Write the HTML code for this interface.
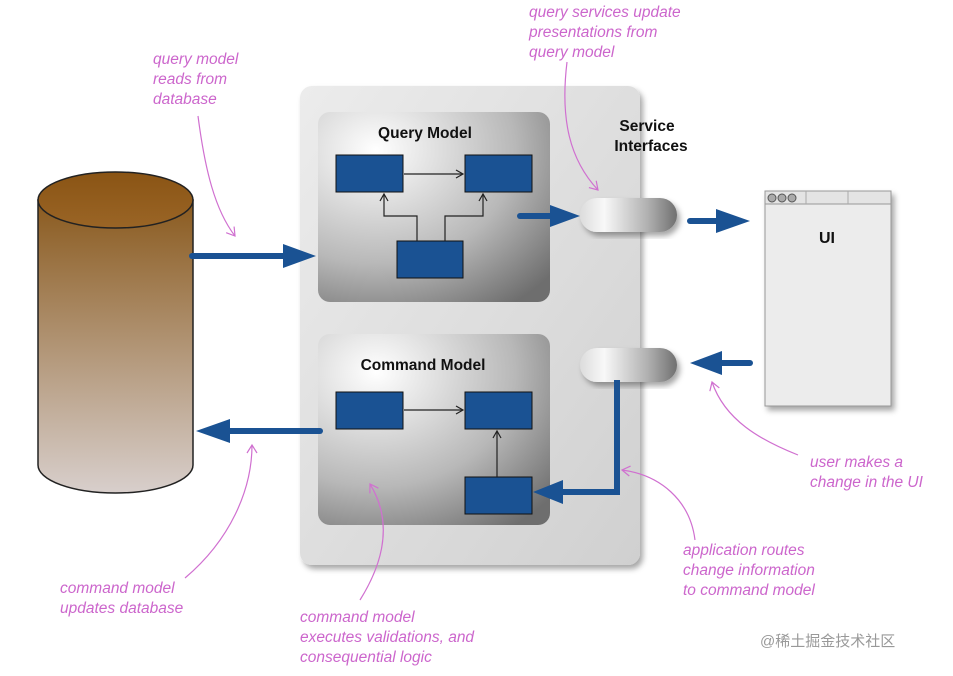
<!DOCTYPE html>
<html><head><meta charset="utf-8"><style>
body{margin:0;background:#fff;}
svg text{font-family:"Liberation Sans",sans-serif;}
.p{fill:#cc66cc;font-style:italic;font-size:15.5px;}
.b{font-weight:bold;font-size:15.5px;fill:#111;}
</style></head><body>
<svg width="953" height="671" viewBox="0 0 953 671" xmlns="http://www.w3.org/2000/svg">
<defs>
<linearGradient id="cyl" x1="0" y1="0" x2="0" y2="1"><stop offset="0" stop-color="#8a5a1e"/><stop offset="1" stop-color="#d8cfcc"/></linearGradient>
<linearGradient id="cylT" x1="0" y1="0" x2="0" y2="1"><stop offset="0" stop-color="#8a5414"/><stop offset="1" stop-color="#9a6526"/></linearGradient>
<linearGradient id="outer" x1="0" y1="0" x2="1" y2="1"><stop offset="0" stop-color="#ececec"/><stop offset="1" stop-color="#d0d0d0"/></linearGradient>
<radialGradient id="inner" cx="0.25" cy="0.2" r="1"><stop offset="0" stop-color="#ffffff"/><stop offset="0.6" stop-color="#b8b8b8"/><stop offset="1" stop-color="#6e6e6e"/></radialGradient>
<radialGradient id="pill" cx="0.25" cy="0.35" r="0.85" gradientTransform="scale(1,1)"><stop offset="0" stop-color="#ffffff"/><stop offset="0.5" stop-color="#cccccc"/><stop offset="1" stop-color="#6a6a6a"/></radialGradient>
<filter id="sh" x="-10%" y="-10%" width="130%" height="130%"><feDropShadow dx="3" dy="4" stdDeviation="3" flood-opacity="0.35"/></filter>
<marker id="sa" markerWidth="10" markerHeight="10" refX="8" refY="5" orient="auto" markerUnits="userSpaceOnUse"><path d="M1,1 L8,5 L1,9" fill="none" stroke="#222" stroke-width="1.2"/></marker>
<marker id="pa" markerWidth="12" markerHeight="12" refX="10" refY="6" orient="auto" markerUnits="userSpaceOnUse"><path d="M2,1 L10,6 L2,11" fill="none" stroke="#d070d0" stroke-width="1.2"/></marker>
<linearGradient id="pillH" x1="0" y1="0" x2="1" y2="0"><stop offset="0" stop-color="#dcdcdc"/><stop offset="0.25" stop-color="#f8f8f8"/><stop offset="0.7" stop-color="#b0b0b0"/><stop offset="1" stop-color="#707070"/></linearGradient>
</defs>
<path d="M38,200 L38,465 A77.5,28 0 0 0 193,465 L193,200 Z" fill="url(#cyl)" stroke="#222" stroke-width="1.5"/>
<ellipse cx="115.5" cy="200" rx="77.5" ry="28" fill="url(#cylT)" stroke="#222" stroke-width="1.5"/>
<rect x="300" y="86" width="340" height="479" rx="12" fill="url(#outer)" filter="url(#sh)"/>
<text class="b" x="647" y="131" text-anchor="middle">Service</text>
<text class="b" x="651" y="151" text-anchor="middle">Interfaces</text>
<rect x="318" y="112" width="232" height="190" rx="12" fill="url(#inner)"/>
<text class="b" x="425" y="138" text-anchor="middle">Query Model</text>
<rect x="336" y="155" width="67" height="37" fill="#1a5293" stroke="#111"/>
<rect x="465" y="155" width="67" height="37" fill="#1a5293" stroke="#111"/>
<rect x="397" y="241" width="66" height="37" fill="#1a5293" stroke="#111"/>
<line x1="404" y1="174" x2="463" y2="174" stroke="#222" stroke-width="1.2" marker-end="url(#sa)"/>
<path d="M417,241 L417,216 L384,216 L384,194" fill="none" stroke="#222" stroke-width="1.2" marker-end="url(#sa)"/>
<path d="M445,241 L445,216 L483,216 L483,194" fill="none" stroke="#222" stroke-width="1.2" marker-end="url(#sa)"/>
<rect x="318" y="334" width="232" height="191" rx="12" fill="url(#inner)"/>
<text class="b" x="423" y="370" text-anchor="middle">Command Model</text>
<rect x="336" y="392" width="67" height="37" fill="#1a5293" stroke="#111"/>
<rect x="465" y="392" width="67" height="37" fill="#1a5293" stroke="#111"/>
<rect x="465" y="477" width="67" height="37" fill="#1a5293" stroke="#111"/>
<line x1="404" y1="410" x2="463" y2="410" stroke="#222" stroke-width="1.2" marker-end="url(#sa)"/>
<line x1="497" y1="477" x2="497" y2="431" stroke="#222" stroke-width="1.2" marker-end="url(#sa)"/>
<rect x="580" y="198" width="97" height="34" rx="17" fill="url(#pillH)" filter="url(#sh)"/>
<rect x="580" y="348" width="97" height="34" rx="17" fill="url(#pillH)" filter="url(#sh)"/>
<g filter="url(#sh)">
<rect x="765" y="191" width="126" height="215" fill="#ececec" stroke="#999"/>
<rect x="765" y="191" width="126" height="13" fill="#e4e4e4" stroke="#999"/>
<line x1="806" y1="191" x2="806" y2="204" stroke="#aaa"/><line x1="848" y1="191" x2="848" y2="204" stroke="#aaa"/>
<circle cx="772" cy="198" r="4" fill="#aaa" stroke="#555"/><circle cx="782" cy="198" r="4" fill="#aaa" stroke="#555"/><circle cx="792" cy="198" r="4" fill="#aaa" stroke="#555"/>
</g>
<text x="827" y="243" text-anchor="middle" style="font-weight:bold;font-size:16px;fill:#111">UI</text>
<g fill="#1a5293" stroke="#1a5293">
<line x1="192" y1="256" x2="285" y2="256" stroke-width="6" stroke-linecap="round"/><path d="M283,244 L316,256 L283,268 Z" stroke="none"/>
<line x1="520" y1="216" x2="552" y2="216" stroke-width="6" stroke-linecap="round"/><path d="M550,205 L580,216 L550,227 Z" stroke="none"/>
<line x1="690" y1="221" x2="720" y2="221" stroke-width="6" stroke-linecap="round"/><path d="M716,209 L750,221 L716,233 Z" stroke="none"/>
<line x1="750" y1="363" x2="720" y2="363" stroke-width="6" stroke-linecap="round"/><path d="M722,351 L690,363 L722,375 Z" stroke="none"/>
<line x1="320" y1="431" x2="228" y2="431" stroke-width="6" stroke-linecap="round"/><path d="M230,419 L196,431 L230,443 Z" stroke="none"/>
<path d="M617,380 L617,492 L560,492" fill="none" stroke-width="6"/><path d="M563,480 L533,492 L563,504 Z" stroke="none"/>
</g>
<g fill="none" stroke="#d070d0" stroke-width="1.2">
<path d="M198,116 C205,170 215,210 235,236" marker-end="url(#pa)"/>
<path d="M567,62 C560,120 570,160 598,190" marker-end="url(#pa)"/>
<path d="M798,455 C760,440 725,420 712,382" marker-end="url(#pa)"/>
<path d="M695,540 C690,500 660,475 622,470" marker-end="url(#pa)"/>
<path d="M360,600 C385,560 392,520 370,484" marker-end="url(#pa)"/>
<path d="M185,578 C230,540 252,490 252,445" marker-end="url(#pa)"/>
</g>
<g class="p">
<text class="p" x="153" y="64">query model</text><text class="p" x="153" y="84">reads from</text><text class="p" x="153" y="104">database</text>
<text class="p" x="529" y="17">query services update</text><text class="p" x="529" y="37">presentations from</text><text class="p" x="529" y="57">query model</text>
<text class="p" x="810" y="467">user makes a</text><text class="p" x="810" y="487">change in the UI</text>
<text class="p" x="683" y="555">application routes</text><text class="p" x="683" y="575">change information</text><text class="p" x="683" y="595">to command model</text>
<text class="p" x="300" y="622">command model</text><text class="p" x="300" y="642">executes validations, and</text><text class="p" x="300" y="662">consequential logic</text>
<text class="p" x="60" y="593">command model</text><text class="p" x="60" y="613">updates database</text>
</g>
<text x="760" y="646" style="font-family:'Liberation Sans','Noto Sans CJK SC',sans-serif;font-size:15px;fill:#999">@稀土掘金技术社区</text>
</svg>
</body></html>
